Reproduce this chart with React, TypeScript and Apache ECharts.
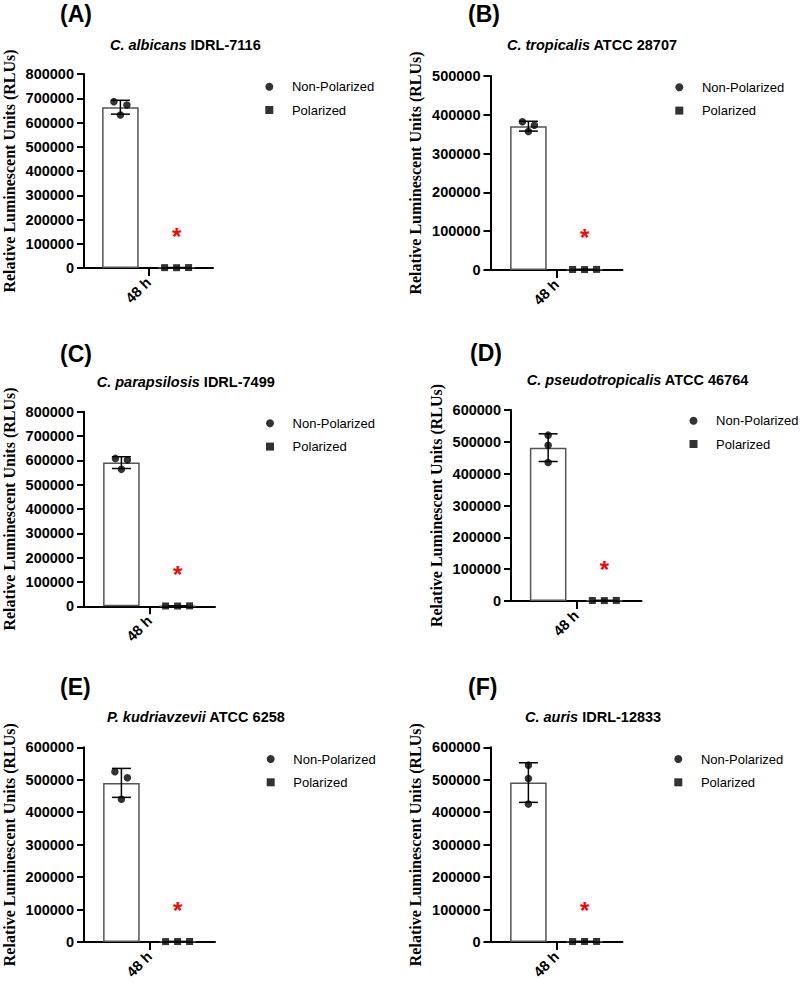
import React, { useEffect, useRef } from 'react';
import * as echarts from 'echarts';

// ---------------- DATA ----------------
const CATEGORIES = ['48 h'];
const SERIES_NAMES = ['Non-Polarized', 'Polarized'];
const PANEL_LABELS = ['(A)', '(B)', '(C)', '(D)', '(E)', '(F)'];
const SPECIES = ['C. albicans', 'C. tropicalis', 'C. parapsilosis', 'C. pseudotropicalis', 'P. kudriavzevii', 'C. auris'];
const STRAINS = ['IDRL-7116', 'ATCC 28707', 'IDRL-7499', 'ATCC 46764', 'ATCC 6258', 'IDRL-12833'];
const Y_AXIS_NAME = 'Relative Luminescent Units (RLUs)';
const Y_MAX = [800000, 500000, 800000, 600000, 600000, 600000];
const Y_INTERVAL = 100000;
const NON_POLARIZED = [
  [686000, 672000, 631000],
  [382000, 373000, 357000],
  [608000, 601000, 563000],
  [521000, 489000, 435000],
  [525000, 506000, 440000],
  [545000, 504000, 425000],
];
const POLARIZED = [
  [1500, 1200, 1800],
  [1300, 1100, 1600],
  [1400, 1200, 1700],
  [1500, 1300, 1800],
  [1200, 1400, 1600],
  [1300, 1500, 1700],
];
const SIGNIFICANCE = ['*', '*', '*', '*', '*', '*'];

// ---------------- LAYOUT / STYLE ----------------
const SANS = "'Liberation Sans', Arial, sans-serif";
const SERIF = "'Liberation Serif', 'Times New Roman', serif";
const GRIDS = [
  { left: 82, top: 74, width: 131, height: 194 },
  { left: 490.5, top: 76, width: 132, height: 194 },
  { left: 82.5, top: 411.7, width: 132.5, height: 194.6 },
  { left: 511, top: 410, width: 130.5, height: 191 },
  { left: 82.5, top: 747.3, width: 132.5, height: 194.7 },
  { left: 490.5, top: 747.3, width: 132, height: 194.7 },
];
const LABEL_POS = [[60, 2], [468, 2], [60, 342.5], [470, 341.8], [60, 675.2], [468, 675.2]];
const TITLE_POS = [[110, 36.5], [507, 36.5], [96.7, 373.2], [526.7, 371.5], [107, 708.2], [525, 708.2]];
const LEGEND_POS = [[265.3, 79.7], [675.3, 80.3], [266, 416.3], [689.5, 413.7], [266.7, 752], [674.3, 752]];
const NP_JITTER = [[-6.5, 6.5, 0], [-6, 6, 0], [-6, 6, 0], [0, 0, 0], [-6.5, 6, 0], [0, 0, 0]];
const P_JITTER = [-12, 0, 12];
const BAR_W = 36.6;
const BAR_GAP_PX = 19.6;
const BAR_OFFSET = (BAR_W + BAR_GAP_PX) / 2;

const mean = (a: number[]) => a.reduce((s, v) => s + v, 0) / a.length;
const sd = (a: number[]) => {
  const m = mean(a);
  return Math.sqrt(a.reduce((s, v) => s + (v - m) * (v - m), 0) / (a.length - 1));
};

const errorRender = (offset: number) => (params: any, api: any) => {
  const c = api.value(0);
  const m = api.value(1);
  const s = api.value(2);
  const top = api.coord([c, m + s]);
  const bot = api.coord([c, m - s]);
  const x = top[0] + offset;
  const hw = 9.5;
  const style = { stroke: '#000', lineWidth: 1.5 };
  return {
    type: 'group',
    children: [
      { type: 'line', shape: { x1: x, y1: top[1], x2: x, y2: bot[1] }, style },
      { type: 'line', shape: { x1: x - hw, y1: top[1], x2: x + hw, y2: top[1] }, style },
      { type: 'line', shape: { x1: x - hw, y1: bot[1], x2: x + hw, y2: bot[1] }, style },
    ],
  };
};

function buildOption() {
  const grid = GRIDS.map((g) => ({ ...g, containLabel: false }));
  const xAxis = GRIDS.map((_, i) => ({
    type: 'category',
    gridIndex: i,
    data: CATEGORIES,
    axisLine: { show: true, lineStyle: { color: '#000', width: 2 } },
    axisTick: { show: true, alignWithLabel: true, length: 8, lineStyle: { color: '#000', width: 2 } },
    axisLabel: { rotate: 45, margin: 12, color: '#000', fontFamily: SANS, fontWeight: 'bold', fontSize: 14.5 },
    splitLine: { show: false },
  }));
  const yAxis = GRIDS.map((_, i) => ({
    type: 'value',
    gridIndex: i,
    min: 0,
    max: Y_MAX[i],
    interval: Y_INTERVAL,
    name: Y_AXIS_NAME,
    nameLocation: 'middle',
    nameRotate: 90,
    nameGap: 67,
    nameTextStyle: { fontFamily: SERIF, fontWeight: 'bold', fontSize: 16, color: '#000' },
    axisLine: { show: true, lineStyle: { color: '#000', width: 2 } },
    axisTick: { show: true, length: 7, lineStyle: { color: '#000', width: 2 } },
    axisLabel: {
      margin: 10,
      color: '#000',
      fontFamily: SANS,
      fontWeight: 'bold',
      fontSize: 14.5,
      formatter: (v: number) => String(v),
    },
    splitLine: { show: false },
  }));

  const series: any[] = [];
  GRIDS.forEach((_, i) => {
    const np = NON_POLARIZED[i];
    const p = POLARIZED[i];
    series.push({
      type: 'bar',
      name: SERIES_NAMES[0] + ' mean',
      xAxisIndex: i,
      yAxisIndex: i,
      data: [mean(np)],
      barWidth: BAR_W,
      barGap: (BAR_GAP_PX / BAR_W) * 100 + '%',
      itemStyle: { color: '#fff', borderColor: '#555', borderWidth: 1.5 },
      z: 2,
      silent: true,
    });
    series.push({
      type: 'bar',
      name: SERIES_NAMES[1] + ' mean',
      xAxisIndex: i,
      yAxisIndex: i,
      data: [mean(p)],
      barWidth: BAR_W,
      itemStyle: { color: '#fff', borderColor: '#555', borderWidth: 1.5 },
      label: {
        show: true,
        position: 'top',
        distance: 19,
        formatter: SIGNIFICANCE[i],
        color: '#ff0000',
        fontFamily: SANS,
        fontWeight: 'bold',
        fontSize: 24,
      },
      z: 2,
      silent: true,
    });
    series.push({
      type: 'custom',
      name: 'SD ' + SERIES_NAMES[0],
      xAxisIndex: i,
      yAxisIndex: i,
      renderItem: errorRender(-BAR_OFFSET),
      data: [[0, mean(np), sd(np)]],
      z: 3,
      silent: true,
    });
    series.push({
      type: 'custom',
      name: 'SD ' + SERIES_NAMES[1],
      xAxisIndex: i,
      yAxisIndex: i,
      renderItem: errorRender(BAR_OFFSET),
      data: [[0, mean(p), sd(p)]],
      z: 3,
      silent: true,
    });
    series.push({
      type: 'scatter',
      name: SERIES_NAMES[0],
      xAxisIndex: i,
      yAxisIndex: i,
      symbol: 'circle',
      symbolSize: 7.5,
      itemStyle: { color: '#000' },
      data: np.map((v, k) => ({ value: [0, v], symbolOffset: [-BAR_OFFSET + NP_JITTER[i][k], 0] })),
      z: 4,
      silent: true,
    });
    series.push({
      type: 'scatter',
      name: SERIES_NAMES[1],
      xAxisIndex: i,
      yAxisIndex: i,
      symbol: 'rect',
      symbolSize: 7,
      itemStyle: { color: '#000' },
      data: p.map((v, k) => ({ value: [0, v], symbolOffset: [BAR_OFFSET + P_JITTER[k], 0] })),
      z: 4,
      silent: true,
    });
  });

  const legend = LEGEND_POS.map(([l, t]) => ({
    orient: 'vertical',
    left: l,
    top: t,
    padding: 0,
    itemWidth: 8,
    itemHeight: 8,
    itemGap: 9.3,
    selectedMode: false,
    data: [
      { name: SERIES_NAMES[0], icon: 'circle' },
      { name: SERIES_NAMES[1], icon: 'rect' },
    ],
    textStyle: { fontFamily: SANS, fontSize: 13, color: '#000', lineHeight: 14, padding: [0, 0, 0, 13.6] },
  }));

  const title = [
    ...PANEL_LABELS.map((t, i) => ({
      text: t,
      left: LABEL_POS[i][0],
      top: LABEL_POS[i][1],
      padding: 0,
      textStyle: { fontFamily: SANS, fontWeight: 'bold', fontSize: 23, lineHeight: 23, color: '#000' },
    })),
    ...SPECIES.map((s, i) => ({
      text: `{i|${s}}{b| ${STRAINS[i]}}`,
      left: TITLE_POS[i][0],
      top: TITLE_POS[i][1],
      padding: 0,
      textStyle: {
        fontFamily: SANS,
        fontWeight: 'bold',
        fontSize: 14.5,
        lineHeight: 17,
        color: '#000',
        rich: {
          i: { fontFamily: SANS, fontWeight: 'bold', fontStyle: 'italic', fontSize: 14.5, lineHeight: 17, color: '#000' },
          b: { fontFamily: SANS, fontWeight: 'bold', fontSize: 14.5, lineHeight: 17, color: '#000' },
        },
      },
    })),
  ];

  return {
    animation: false,
    backgroundColor: '#fff',
    title,
    legend,
    grid,
    xAxis,
    yAxis,
    series,
  };
}

export default function App() {
  const ref = useRef<HTMLDivElement>(null);
  useEffect(() => {
    document.body.style.margin = '0';
    if (!ref.current) return;
    const chart = echarts.init(ref.current, undefined, { renderer: 'svg' });
    chart.setOption(buildOption() as any);
    return () => chart.dispose();
  }, []);
  return <div ref={ref} style={{ position: 'absolute', left: 0, top: 0, width: 800, height: 987 }} />;
}
